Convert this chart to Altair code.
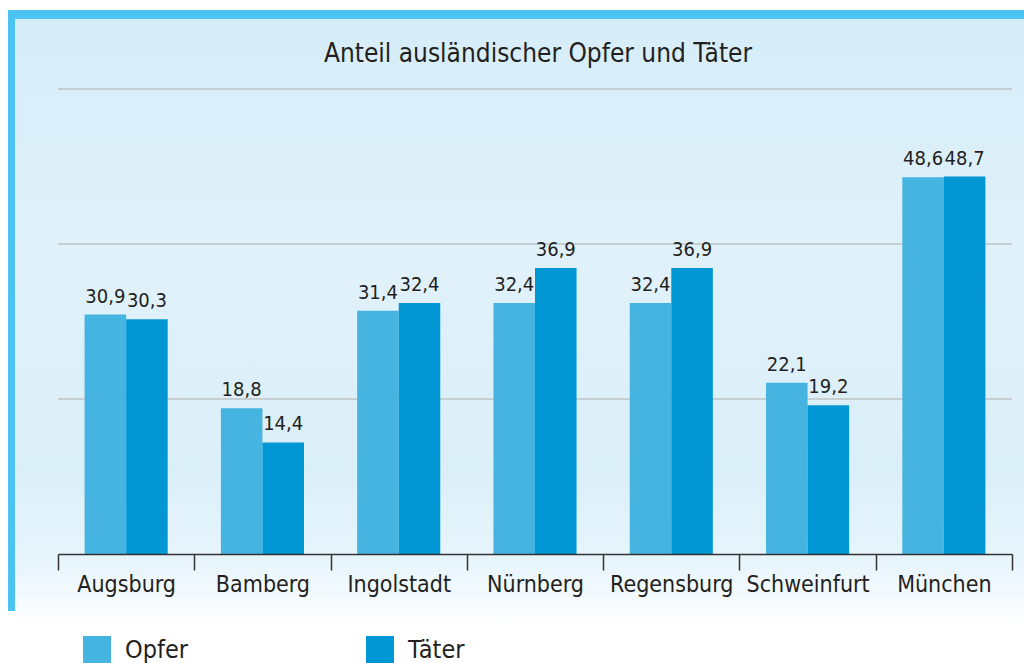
import altair as alt
import pandas as pd

cities = ["Augsburg", "Bamberg", "Ingolstadt", "Nürnberg", "Regensburg", "Schweinfurt", "München"]
opfer = [30.9, 18.8, 31.4, 32.4, 32.4, 22.1, 48.6]
taeter = [30.3, 14.4, 32.4, 36.9, 36.9, 19.2, 48.7]
series = ["Opfer", "Täter"]
colors = ["#45b4e1", "#0097d4"]
grid_values = [20, 40, 60]
title = "Anteil ausländischer Opfer und Täter"

rows = []
for c, o, t in zip(cities, opfer, taeter):
    for s, v in zip(series, [o, t]):
        rows.append({"city": c, "series": s, "value": v,
                     "label": f"{v:.1f}".replace(".", ",")})
df = pd.DataFrame(rows)

FONT = "DejaVu Sans Condensed, sans-serif"
W, H = 954, 465
LEFT, TOP = 58, 89

x_enc = alt.X("city:N", sort=cities, title=None,
              scale=alt.Scale(paddingInner=0, paddingOuter=0),
              axis=alt.Axis(tickBand="extent", tickSize=16, tickWidth=1.5, tickColor="#333333",
                            domainColor="#333333", domainWidth=1.5, labelAngle=0,
                            labelFont=FONT, labelFontSize=23, labelColor="#231f20",
                            labelPadding=3, zindex=1, grid=False))
xo_enc = alt.XOffset("series:N", sort=series,
                     scale=alt.Scale(paddingInner=0, paddingOuter=0.64))
y_enc = alt.Y("value:Q", scale=alt.Scale(domain=[0, 60]), axis=None)

one = alt.Data(values=[{"a": 1}])

bg = alt.Chart(one).mark_rect(
    color=alt.Gradient(gradient="linear", x1=0, x2=0, y1=0, y2=1,
                       stops=[alt.GradientStop(color="#d6edf9", offset=0),
                              alt.GradientStop(color="#e0f1fa", offset=0.4),
                              alt.GradientStop(color="#dbeff9", offset=0.75),
                              alt.GradientStop(color="#e8f5fc", offset=0.9),
                              alt.GradientStop(color="#ffffff", offset=1)])
).encode(x=alt.value(15 - LEFT), x2=alt.value(1024 - LEFT),
         y=alt.value(19 - TOP), y2=alt.value(625 - TOP))

frame_top = alt.Chart(one).mark_rect(color="#4cc3f2").encode(
    x=alt.value(8 - LEFT), x2=alt.value(1024 - LEFT),
    y=alt.value(10 - TOP), y2=alt.value(19 - TOP))
frame_left = alt.Chart(one).mark_rect(color="#4cc3f2").encode(
    x=alt.value(8 - LEFT), x2=alt.value(15 - LEFT),
    y=alt.value(10 - TOP), y2=alt.value(611 - TOP))

grid = alt.Chart(pd.DataFrame({"g": grid_values})).mark_rule(
    color="#adadad", strokeWidth=1).encode(y=alt.Y("g:Q", scale=alt.Scale(domain=[0, 60]), axis=None))

bars = alt.Chart(df).mark_bar().encode(
    x=x_enc, xOffset=xo_enc, y=y_enc,
    color=alt.Color("series:N", sort=series,
                    scale=alt.Scale(domain=series, range=colors),
                    legend=alt.Legend(title=None, orient="none", direction="horizontal",
                                      legendX=83 - LEFT, legendY=636 - TOP,
                                      symbolType="square", symbolSize=784,
                                      symbolStrokeWidth=0, symbolOpacity=1,
                                      labelFont=FONT, labelFontSize=25,
                                      labelColor="#231f20", labelOffset=14,
                                      columnPadding=178, padding=0)))

text = alt.Chart(df).mark_text(baseline="bottom", dy=-8, font=FONT, fontSize=20,
                               color="#231f20").encode(
    x=alt.X("city:N", sort=cities), xOffset=xo_enc, y=y_enc, text="label:N")

chart = alt.layer(bg, frame_top, frame_left, grid, bars, text).properties(
    width=W, height=H,
    title=alt.TitleParams(title, font=FONT, fontSize=26, fontWeight="normal",
                          color="#231f20", anchor="middle", frame="group",
                          baseline="alphabetic", offset=27, dy=105, dx=3),
    autosize=alt.AutoSizeParams(type="none"),
    padding={"left": LEFT, "top": TOP, "right": 1024 - LEFT - W, "bottom": 663 - TOP - H},
    background="white",
).configure_view(stroke=None)

chart.save("out.html", embed_options={"renderer": "svg", "actions": False})
